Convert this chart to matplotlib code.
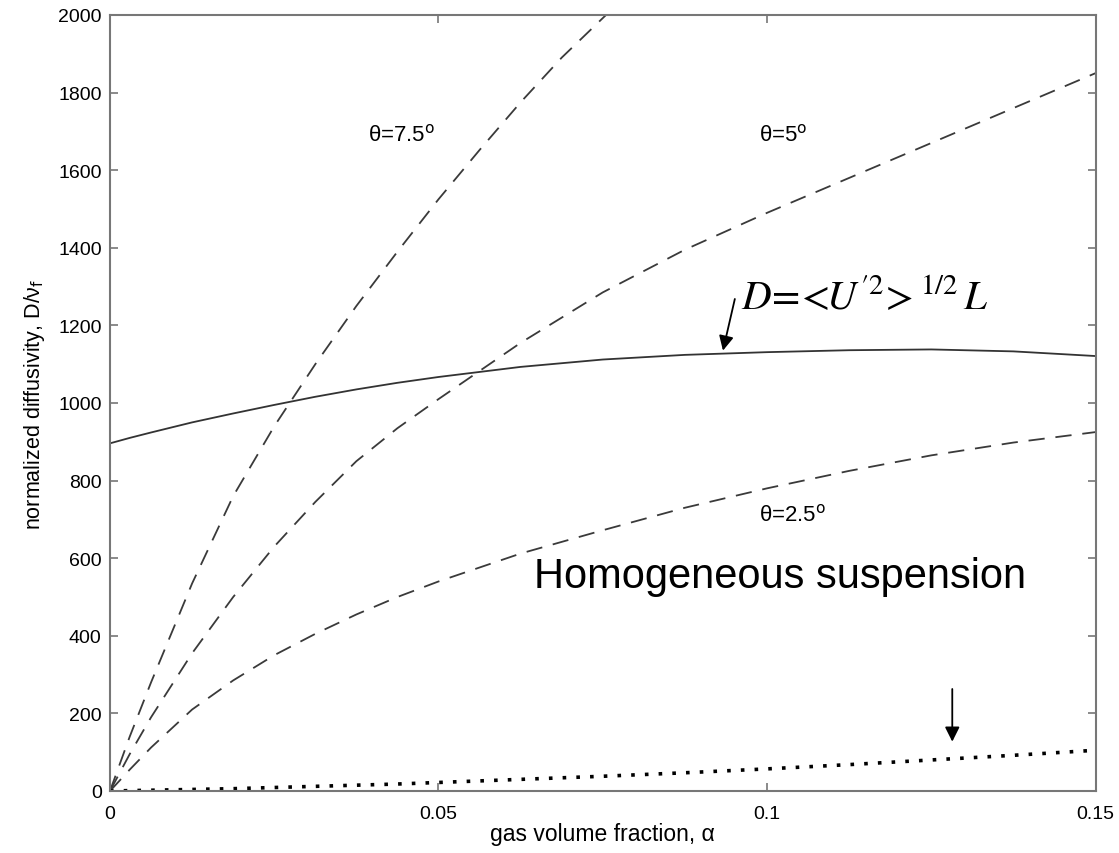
import matplotlib
matplotlib.use('Agg')
import matplotlib.pyplot as plt
import numpy as np

plt.rcParams['font.family'] = ['Liberation Sans', 'DejaVu Sans']
plt.rcParams['mathtext.fontset'] = 'stix'

# gas volume fraction and normalized diffusivity curves
alpha = [0, 0.003, 0.00625, 0.0125, 0.01875, 0.025, 0.03125, 0.0375, 0.04375, 0.05,
         0.0625, 0.075, 0.0875, 0.1, 0.1125, 0.125, 0.1375, 0.15]
d_mixing = [896, 910, 924, 950, 973, 995, 1016, 1035, 1052, 1067,
            1093, 1112, 1124, 1131, 1136, 1138, 1133, 1121]
d_theta5 = [0, 95, 190, 355, 500, 630, 745, 850, 935, 1010,
            1155, 1285, 1395, 1490, 1580, 1670, 1760, 1850]
d_theta25 = [0, 55, 112, 210, 285, 350, 405, 455, 500, 540,
             612, 672, 730, 780, 825, 865, 898, 925]
d_homog = [0, 1, 2, 4, 6, 9, 12, 15, 18, 22,
           30, 38, 47, 57, 68, 80, 92, 105]

alpha75 = [0, 0.003, 0.00625, 0.0125, 0.01875, 0.025, 0.03125, 0.0375,
           0.04375, 0.05, 0.05625, 0.0625, 0.06875, 0.0755]
d_theta75 = [0, 140, 280, 535, 760, 940, 1100, 1250,
             1390, 1525, 1652, 1775, 1890, 2000]

fig = plt.figure(figsize=(11.19, 8.54), dpi=100)
ax = fig.add_axes([0.0983, 0.0726, 0.8807, 0.9087])

dash = (0, (9, 6))
gray = '#3a3a3a'
ax.plot(alpha, d_mixing, color='#333333', linewidth=1.3)
ax.plot(alpha75, d_theta75, color=gray, linewidth=1.3, linestyle=dash)
ax.plot(alpha, d_theta5, color=gray, linewidth=1.3, linestyle=dash)
ax.plot(alpha, d_theta25, color=gray, linewidth=1.3, linestyle=dash)
ax.plot(alpha, d_homog, color='black', linewidth=2.6, linestyle=(0, (1, 2.8)))

ax.set_xlim(0, 0.15)
ax.set_ylim(0, 2000)
ax.set_xticks([0, 0.05, 0.1, 0.15])
ax.set_xticklabels(['0', '0.05', '0.1', '0.15'])
ax.set_yticks(np.arange(0, 2001, 200))
ax.tick_params(direction='in', length=6, width=1.2, color='#777777',
               top=True, right=True, labelsize=14, pad=6)
ax.tick_params(axis='x', pad=10)
for s in ax.spines.values():
    s.set_color('#777777')
    s.set_linewidth(1.5)

ax.set_xlabel('gas volume fraction, α', fontsize=16.5, labelpad=0)
ax.set_ylabel(r'normalized diffusivity, D/ν$_{\rm f}$', fontsize=15.5, labelpad=8,
              math_fontfamily='dejavusans')

lbl = dict(fontsize=16, math_fontfamily='dejavusans', va='center', ha='left')
ax.text(0.0393, 1693, r'θ=7.5$^{\rm o}$', **lbl)
ax.text(0.0988, 1693, r'θ=5$^{\rm o}$', **lbl)
ax.text(0.0988, 712, r'θ=2.5$^{\rm o}$', **lbl)

ax.text(0.0960, 1275, r"$D\!=\!\!<\!\!U^{\prime 2}\!>^{1/2}\,L$", fontsize=29.5,
        ha='left', va='center')
ax.annotate('', xy=(0.0932, 1128), xytext=(0.0952, 1275),
            arrowprops=dict(arrowstyle='-|>', color='black', lw=1.3, mutation_scale=22))

ax.text(0.102, 555, 'Homogeneous suspension', fontsize=30, ha='center', va='center')
ax.annotate('', xy=(0.1282, 120), xytext=(0.1282, 270),
            arrowprops=dict(arrowstyle='-|>', color='black', lw=1.3, mutation_scale=22))

fig.savefig('out.png', dpi=100)
